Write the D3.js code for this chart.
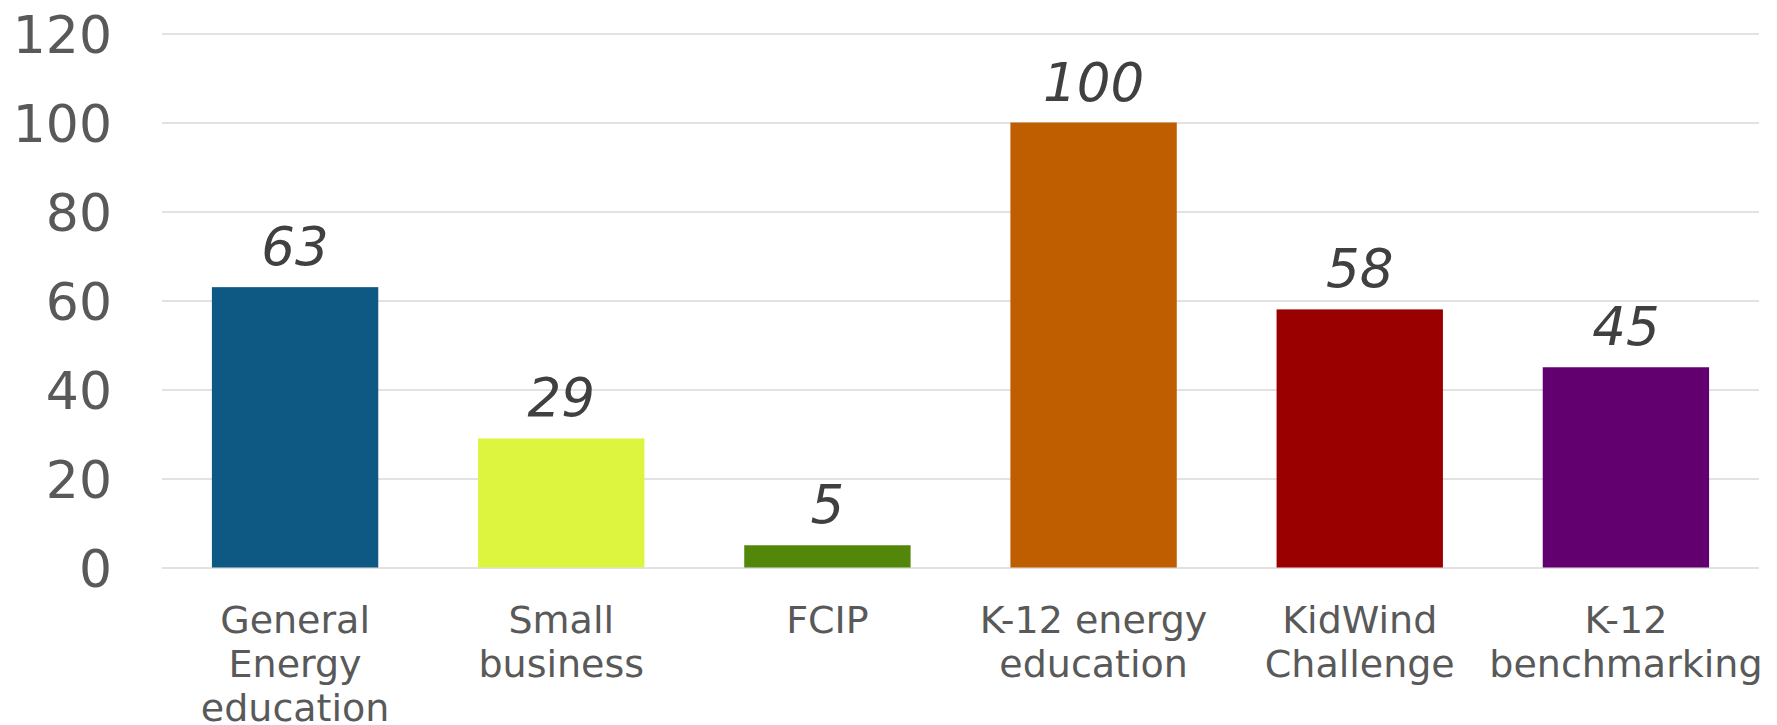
<!DOCTYPE html>
<html>
<head>
<meta charset="utf-8">
<script src="https://cdn.jsdelivr.net/npm/d3@7"></script>
<style>
  html, body { margin: 0; padding: 0; background: #ffffff; }
  svg { display: block; }
</style>
</head>
<body>
<svg id="chart" width="1777" height="725"></svg>
<script>
// ---- data ----
const categories = ["General Energy education", "Small business", "FCIP", "K-12 energy education", "KidWind Challenge", "K-12 benchmarking"];
const categoryLines = [["General", "Energy", "education"], ["Small", "business"], ["FCIP"], ["K-12 energy", "education"], ["KidWind", "Challenge"], ["K-12", "benchmarking"]];
const values = [63, 29, 5, 100, 58, 45];
const barColors = ["#0E5984", "#DDF53E", "#52870A", "#BE5E00", "#9A0000", "#630070"];
const yTicks = [0, 20, 40, 60, 80, 100, 120];

// ---- layout ----
const svg = d3.select("#chart");
const plotLeft = 162, plotRight = 1759, plotTop = 33.5, plotBottom = 567.5;
const FONT = "'DejaVu Sans', Verdana, sans-serif";

const x = d3.scaleBand().domain(categories).range([plotLeft, plotRight]).paddingInner(0.375).paddingOuter(0.1875);
const y = d3.scaleLinear().domain([0, 120]).range([plotBottom, plotTop]);

// gridlines + y tick labels
const yAxis = d3.axisLeft(y).tickValues(yTicks).tickSize(-(plotRight - plotLeft)).tickPadding(50).tickFormat(d3.format("d"));
const gy = svg.append("g").attr("transform", `translate(${plotLeft},0)`).call(yAxis);
gy.select(".domain").remove();
gy.selectAll(".tick line").attr("stroke", "#D9D9D9").attr("stroke-width", 1.4);
gy.selectAll(".tick text")
  .attr("fill", "#595959")
  .attr("font-family", FONT)
  .attr("font-size", 52)
  .attr("x", 112 - plotLeft)
  .attr("dy", "0.36em");

// bars
svg.append("g").selectAll("rect")
  .data(values)
  .join("rect")
  .attr("x", (d, i) => x(categories[i]))
  .attr("width", x.bandwidth())
  .attr("y", d => y(d))
  .attr("height", d => y(0) - y(d))
  .attr("fill", (d, i) => barColors[i]);

// value labels
svg.append("g").selectAll("text")
  .data(values)
  .join("text")
  .attr("x", (d, i) => x(categories[i]) + x.bandwidth() / 2)
  .attr("y", d => y(d) - 22)
  .attr("text-anchor", "middle")
  .attr("font-family", FONT)
  .attr("font-style", "italic")
  .attr("font-size", 53)
  .attr("fill", "#404040")
  .text(d => d);

// x axis
const xAxis = d3.axisBottom(x).tickSize(0).tickPadding(0);
const gx = svg.append("g").attr("transform", `translate(0,${plotBottom})`).call(xAxis);
gx.select(".domain").remove();
gx.selectAll(".tick text").each(function(d, i) {
  const t = d3.select(this);
  t.text(null)
    .attr("y", 0)
    .attr("dy", null)
    .attr("fill", "#595959")
    .attr("font-family", FONT)
    .attr("font-size", 38);
  categoryLines[i].forEach((line, j) => {
    t.append("tspan").attr("x", 0).attr("y", 65 + j * 44).text(line);
  });
});
</script>
</body>
</html>
